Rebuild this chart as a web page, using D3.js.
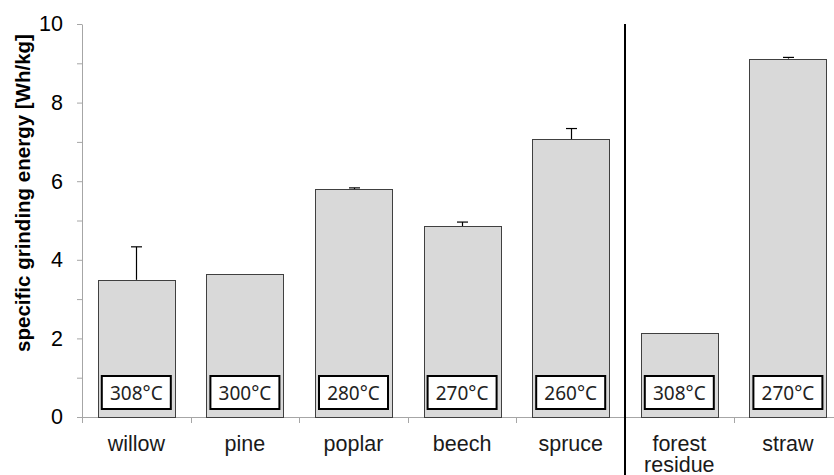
<!DOCTYPE html>
<html>
<head>
<meta charset="utf-8">
<script src="https://cdn.jsdelivr.net/npm/d3@7"></script>
<style>
  body { margin: 0; background: #fff; }
  svg { display: block; }
</style>
</head>
<body>
<svg id="chart" width="834" height="475"></svg>
<script>
// Specific grinding energy per biomass type, with torrefaction temperature
const categories   = ["willow", "pine", "poplar", "beech", "spruce", "forest residue", "straw"];
const energy       = [3.49, 3.63, 5.80, 4.86, 7.07, 2.13, 9.12];
const energyError  = [0.84, 0, 0.03, 0.10, 0.27, 0, 0.03];
const temperatures = ["308°C", "300°C", "280°C", "270°C", "260°C", "308°C", "270°C"];
const yTickValues  = [0, 1, 2, 3, 4, 5, 6, 7, 8, 9, 10];
const yTickLabels  = [0, 2, 4, 6, 8, 10];
const firstResidueIndex = 5; // wood species on the left, residues on the right

const svg = d3.select("#chart");
const sansFont = "Liberation Sans, Arial, sans-serif";

const x = d3.scaleBand()
  .domain(categories)
  .range([82, 842.2])
  .paddingInner(0.29)
  .paddingOuter(0.145);

const y = d3.scaleLinear().domain([0, 10]).range([417, 24]);

const axisColor = "#a6a6a6";

// Y axis with unlabeled minor ticks
const yAxis = svg.append("g")
  .attr("transform", "translate(82,0)")
  .call(d3.axisLeft(y)
    .tickValues(yTickValues)
    .tickSize(5)
    .tickSizeOuter(0)
    .tickPadding(14)
    .tickFormat(d => yTickLabels.includes(d) ? d : ""));
yAxis.select(".domain").attr("stroke", axisColor);
yAxis.selectAll(".tick line").attr("stroke", axisColor);
yAxis.selectAll(".tick text")
  .attr("fill", "#000")
  .style("font-family", sansFont)
  .style("font-size", "21.5px");

// X axis baseline
const xAxis = svg.append("g")
  .attr("transform", "translate(0,417)")
  .call(d3.axisBottom(x).tickSize(0).tickSizeOuter(0).tickFormat(""));
xAxis.select(".domain").attr("stroke", axisColor);

// Category boundary ticks
const boundaries = d3.range(categories.length + 1).map(i => x.range()[0] + i * x.step());
svg.append("g").selectAll("line")
  .data(boundaries)
  .join("line")
  .attr("x1", d => Math.round(d) + 0.5)
  .attr("x2", d => Math.round(d) + 0.5)
  .attr("y1", 417)
  .attr("y2", 423)
  .attr("stroke", axisColor);

// Bars
svg.append("g").selectAll("rect")
  .data(categories)
  .join("rect")
  .attr("x", d => Math.round(x(d)) + 0.5)
  .attr("y", (d, i) => Math.round(y(energy[i])) + 0.5)
  .attr("width", Math.round(x.bandwidth()))
  .attr("height", (d, i) => Math.round(y(0)) - Math.round(y(energy[i])))
  .attr("fill", "#d9d9d9")
  .attr("stroke", "#404040")
  .attr("stroke-width", 1);

// Error bars (upper half only)
const errG = svg.append("g").attr("stroke", "#000").attr("stroke-width", 1.2);
categories.forEach((c, i) => {
  if (energyError[i] <= 0) return;
  const cx = Math.round(x(c) + x.bandwidth() / 2) + 0.5;
  const top = y(energy[i] + energyError[i]);
  errG.append("line")
    .attr("x1", cx).attr("x2", cx)
    .attr("y1", y(energy[i])).attr("y2", top);
  errG.append("line")
    .attr("x1", cx - 5.5).attr("x2", cx + 5.5)
    .attr("y1", top).attr("y2", top);
});

// Temperature boxes at the foot of each bar
const tempG = svg.append("g").selectAll("g")
  .data(categories)
  .join("g")
  .attr("transform", d => `translate(${x(d) + x.bandwidth() / 2},0)`);
tempG.append("rect")
  .attr("x", -34.5)
  .attr("y", 376)
  .attr("width", 69)
  .attr("height", 33)
  .attr("fill", "#fff")
  .attr("stroke", "#000")
  .attr("stroke-width", 2);
tempG.append("text")
  .attr("x", 0)
  .attr("y", 399.5)
  .attr("text-anchor", "middle")
  .attr("fill", "#222")
  .style("font-family", "Noto Sans, sans-serif")
  .style("font-size", "19px")
  .text((d, i) => temperatures[i]);

// Divider between wood species and residues
const dividerX = Math.round(x.range()[0] + firstResidueIndex * x.step());
svg.append("line")
  .attr("x1", dividerX).attr("x2", dividerX)
  .attr("y1", y(10)).attr("y2", 475)
  .attr("stroke", "#000")
  .attr("stroke-width", 2);

// Category labels, one text per wrapped line
const labelLines = categories.flatMap(c =>
  c.split(" ").map((word, j) => ({ c, word, j })));
svg.append("g").selectAll("text")
  .data(labelLines)
  .join("text")
  .attr("x", d => x(d.c) + x.bandwidth() / 2)
  .attr("y", d => 450.5 + d.j * 21)
  .attr("text-anchor", "middle")
  .attr("fill", "#1a1a1a")
  .style("font-family", sansFont)
  .style("font-size", "21.5px")
  .text(d => d.word);

// Y axis title
svg.append("text")
  .attr("transform", "translate(30,193) rotate(-90)")
  .attr("text-anchor", "middle")
  .attr("fill", "#000")
  .style("font-family", sansFont)
  .style("font-size", "20.5px")
  .style("font-weight", "bold")
  .text("specific grinding energy [Wh/kg]");
</script>
</body>
</html>
